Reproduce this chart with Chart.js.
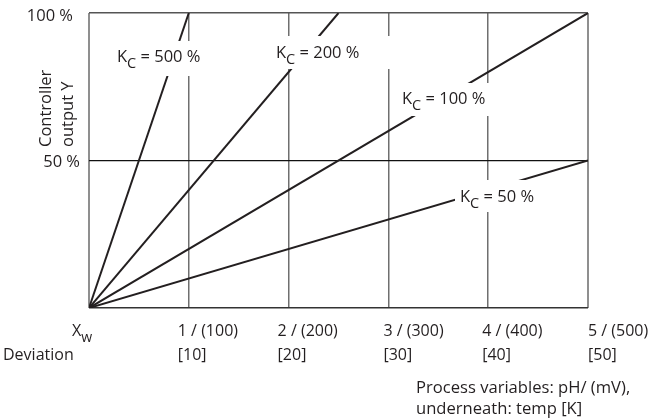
<!DOCTYPE html>
<html>
<head>
<meta charset="utf-8">
<script src="https://cdn.jsdelivr.net/npm/chart.js@4.4.0/dist/chart.umd.min.js"></script>
<style>
  body { margin: 0; background: #fff; }
  #wrap { width: 649px; height: 418px; position: relative; }
</style>
</head>
<body>
<div id="wrap"><canvas id="framus"></canvas></div>
<script>
// deviation (x, 0..5) and controller output Y (%) for each gain line
const kc500X = [0, 1];
const kc500Y = [0, 100];
const kc200X = [0, 2.5];
const kc200Y = [0, 100];
const kc100X = [0, 5];
const kc100Y = [0, 100];
const kc50X = [0, 5];
const kc50Y = [0, 50];

const lineLabels = ['K_C = 500 %', 'K_C = 200 %', 'K_C = 100 %', 'K_C = 50 %'];

const xTickValues = [0, 1, 2, 3, 4, 5];
const xTickTop = ['X_w', '1 / (100)', '2 / (200)', '3 / (300)', '4 / (400)', '5 / (500)'];
const xTickBottom = ['Deviation', '[10]', '[20]', '[30]', '[40]', '[50]'];
const yTickValues = [50, 100];
const yTickLabels = ['50 %', '100 %'];
const yTitle = ['Controller', 'output Y'];
const footNote = ['Process variables: pH/ (mV),', 'underneath: temp [K]'];

const FONT = '"Open Sans", sans-serif';
const INK = '#231f20';

function pts(xs, ys) {
  return xs.map((x, i) => ({ x: x, y: ys[i] }));
}

// draws "A_Bcd" with B as subscript, returns width
function drawSub(ctx, str, x, y, size) {
  const parts = str.split('_');
  ctx.font = size + 'px ' + FONT;
  ctx.fillText(parts[0], x, y);
  let w = ctx.measureText(parts[0]).width;
  if (parts.length > 1) {
    const sub = parts[1].charAt(0);
    const rest = parts[1].slice(1);
    ctx.font = (size * 0.88) + 'px ' + FONT;
    ctx.fillText(sub, x + w, y + size * 0.36);
    w += ctx.measureText(sub).width;
    ctx.font = size + 'px ' + FONT;
    ctx.fillText(rest, x + w, y);
    w += ctx.measureText(rest).width;
  }
  return w;
}

const textPlugin = {
  id: 'texts',
  afterDraw(chart) {
    const ctx = chart.ctx;
    const xs = chart.scales.x;
    const ys = chart.scales.y;
    ctx.save();
    ctx.fillStyle = INK;
    ctx.textBaseline = 'alphabetic';

    // line labels on white boxes (box x, y, w, h, text x, baseline)
    const boxes = [
      [112, 41, 95, 35, 117, 62],
      [270, 36, 122, 33, 276, 58],
      [397, 83, 95, 33, 402, 104],
      [455, 180, 86, 32, 460, 202]
    ];
    lineLabels.forEach((t, i) => {
      const b = boxes[i];
      ctx.fillStyle = '#fff';
      ctx.fillRect(b[0], b[1], b[2], b[3]);
      ctx.fillStyle = INK;
      ctx.textAlign = 'left';
      drawSub(ctx, t, b[4], b[5], 16.5);
    });

    // x tick labels, left aligned near grid lines
    const offs = [-17, -11, -11, -5, -6, 0];
    xTickValues.forEach((v, i) => {
      const px = xs.getPixelForValue(v) + offs[i];
      ctx.textAlign = 'left';
      drawSub(ctx, xTickTop[i], px, 336, 16);
      ctx.font = '16px ' + FONT;
      if (i === 0) {
        ctx.fillText(xTickBottom[i], 3, 360);
      } else {
        ctx.fillText(xTickBottom[i], px, 360);
      }
    });

    // y tick labels
    ctx.font = '16.5px ' + FONT;
    ctx.textAlign = 'right';
    const yRight = [80, 73];
    const yBase = [6, 8];
    yTickValues.forEach((v, i) => {
      ctx.fillText(yTickLabels[i], yRight[i], ys.getPixelForValue(v) + yBase[i]);
    });

    // rotated axis title
    ctx.save();
    ctx.translate(0, 147);
    ctx.rotate(-Math.PI / 2);
    ctx.textAlign = 'left';
    ctx.font = '16.5px ' + FONT;
    ctx.fillText(yTitle[0], 0, 51);
    ctx.fillText(yTitle[1], 0, 73);
    ctx.restore();

    // footnote
    ctx.textAlign = 'left';
    ctx.font = '16.6px ' + FONT;
    ctx.fillText(footNote[0], 416, 393);
    ctx.fillText(footNote[1], 416, 414);

    ctx.restore();
  }
};

const lineStyle = { borderColor: INK, borderWidth: 2, pointRadius: 0, showLine: true, fill: false };

new Chart(document.getElementById('framus'), {
  type: 'scatter',
  data: {
    datasets: [
      Object.assign({ label: lineLabels[0], data: pts(kc500X, kc500Y) }, lineStyle),
      Object.assign({ label: lineLabels[1], data: pts(kc200X, kc200Y) }, lineStyle),
      Object.assign({ label: lineLabels[2], data: pts(kc100X, kc100Y) }, lineStyle),
      Object.assign({ label: lineLabels[3], data: pts(kc50X, kc50Y) }, lineStyle)
    ]
  },
  options: {
    responsive: true,
    maintainAspectRatio: false,
    animation: false,
    layout: { padding: { left: 89, right: 61, top: 13, bottom: 110 } },
    plugins: { legend: { display: false }, tooltip: { enabled: false } },
    scales: {
      x: {
        type: 'linear', min: 0, max: 5,
        ticks: { display: false, stepSize: 1 },
        border: { display: false },
        grid: {
          drawTicks: false,
          color: c => (c.tick.value === 0 || c.tick.value === 5) ? '#8f8f8f' : '#6f6f6f',
          lineWidth: c => (c.tick.value === 0 || c.tick.value === 5) ? 2 : 1.5
        }
      },
      y: {
        min: 0, max: 100,
        ticks: { display: false, stepSize: 50 },
        border: { display: false },
        grid: {
          drawTicks: false,
          color: c => c.tick.value === 50 ? '#111' : (c.tick.value === 100 ? '#555' : '#333'),
          lineWidth: c => c.tick.value === 50 ? 1.2 : 1.6
        }
      }
    }
  },
  plugins: [textPlugin]
});
</script>
</body>
</html>
